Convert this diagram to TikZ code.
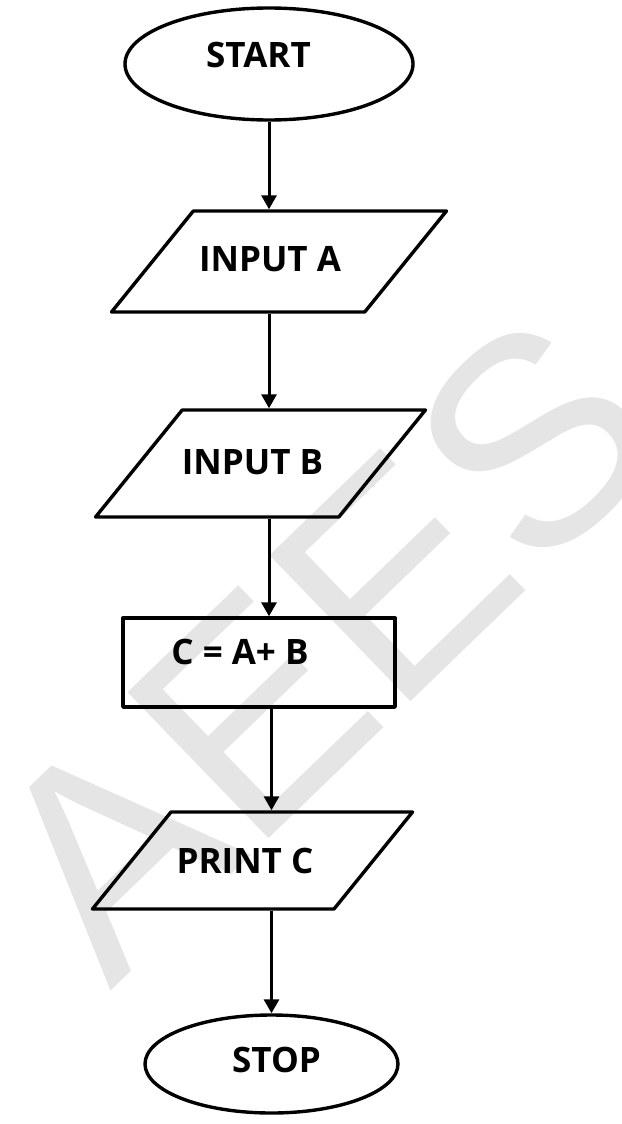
\documentclass[tikz,border=0pt]{standalone}
\usepackage{fontspec}
\setmainfont{Open Sans}
\newfontfamily\markfont{Liberation Sans}
\usetikzlibrary{shapes.geometric,arrows.meta}
\tikzset{
  term/.style={ellipse,draw,line width=3.4pt,inner sep=0pt},
  % parallelogram: body set by inner xsep/ysep, sides at 51 degrees
  io/.style={trapezium,trapezium left angle=51,trapezium right angle=129,
    draw,line width=3.4pt},
  proc/.style={rectangle,draw,line width=3.4pt,inner sep=0pt},
  lbl/.style={inner sep=0pt,font=\fontsize{35}{40}\selectfont\bfseries},
  flow/.style={line width=3pt,-{Triangle[length=14pt,width=15pt]}},
  wmark/.style={inner sep=0pt,text=black!10,font=\markfont\fontsize{295}{295}\selectfont}
}
\begin{document}
\begin{tikzpicture}[x=1pt,y=-1pt,line join=round]
	\useasboundingbox[fill=white] (0,0) rectangle (621,1124);
	% watermark behind everything
	\begin{scope}
		\clip (0,0) rectangle (621,1124);
		\node[wmark,rotate=44,anchor=base west] (wm) at (110,992) {AEES};
	\end{scope}
	% shapes
	\node[term,minimum width=288pt,minimum height=112pt] (start) at (269,64) {};
	\node[io,inner xsep=85.7pt,inner ysep=50.5pt] (inA) at (279,261.5) {};
	\node[io,inner xsep=78.3pt,inner ysep=53.5pt] (inB) at (260.5,463.5) {};
	\node[proc,minimum width=272pt,minimum height=89pt] (calc) at (259,662.5) {};
	\node[io,inner xsep=81.5pt,inner ysep=48.5pt] (outC) at (252.5,860.5) {};
	\node[term,minimum width=253pt,minimum height=98pt] (stop) at (271.5,1064) {};
	% texts
	\node[lbl] (start-t) at (258.5,55) {START};
	\node[lbl] (inA-t) at (270,259.5) {INPUT A};
	\node[lbl] (inB-t) at (252.5,462.5) {INPUT B};
	\node[lbl] (calc-t) at (240,652) {C = A+ B};
	\node[lbl] (outC-t) at (245,861) {PRINT C};
	\node[lbl] (stop-t) at (276.5,1060) {STOP};
	% arrows
	\draw[flow] (start.south) -- (start.south |- inA.north);
	\draw[flow] (start.south |- inA.south) -- (start.south |- inB.north);
	\draw[flow] (start.south |- inB.south) -- (start.south |- calc.north);
	\draw[flow] (stop.north |- calc.south) -- (stop.north |- outC.north);
	\draw[flow] (stop.north |- outC.south) -- (stop.north);
\end{tikzpicture}
\end{document}
